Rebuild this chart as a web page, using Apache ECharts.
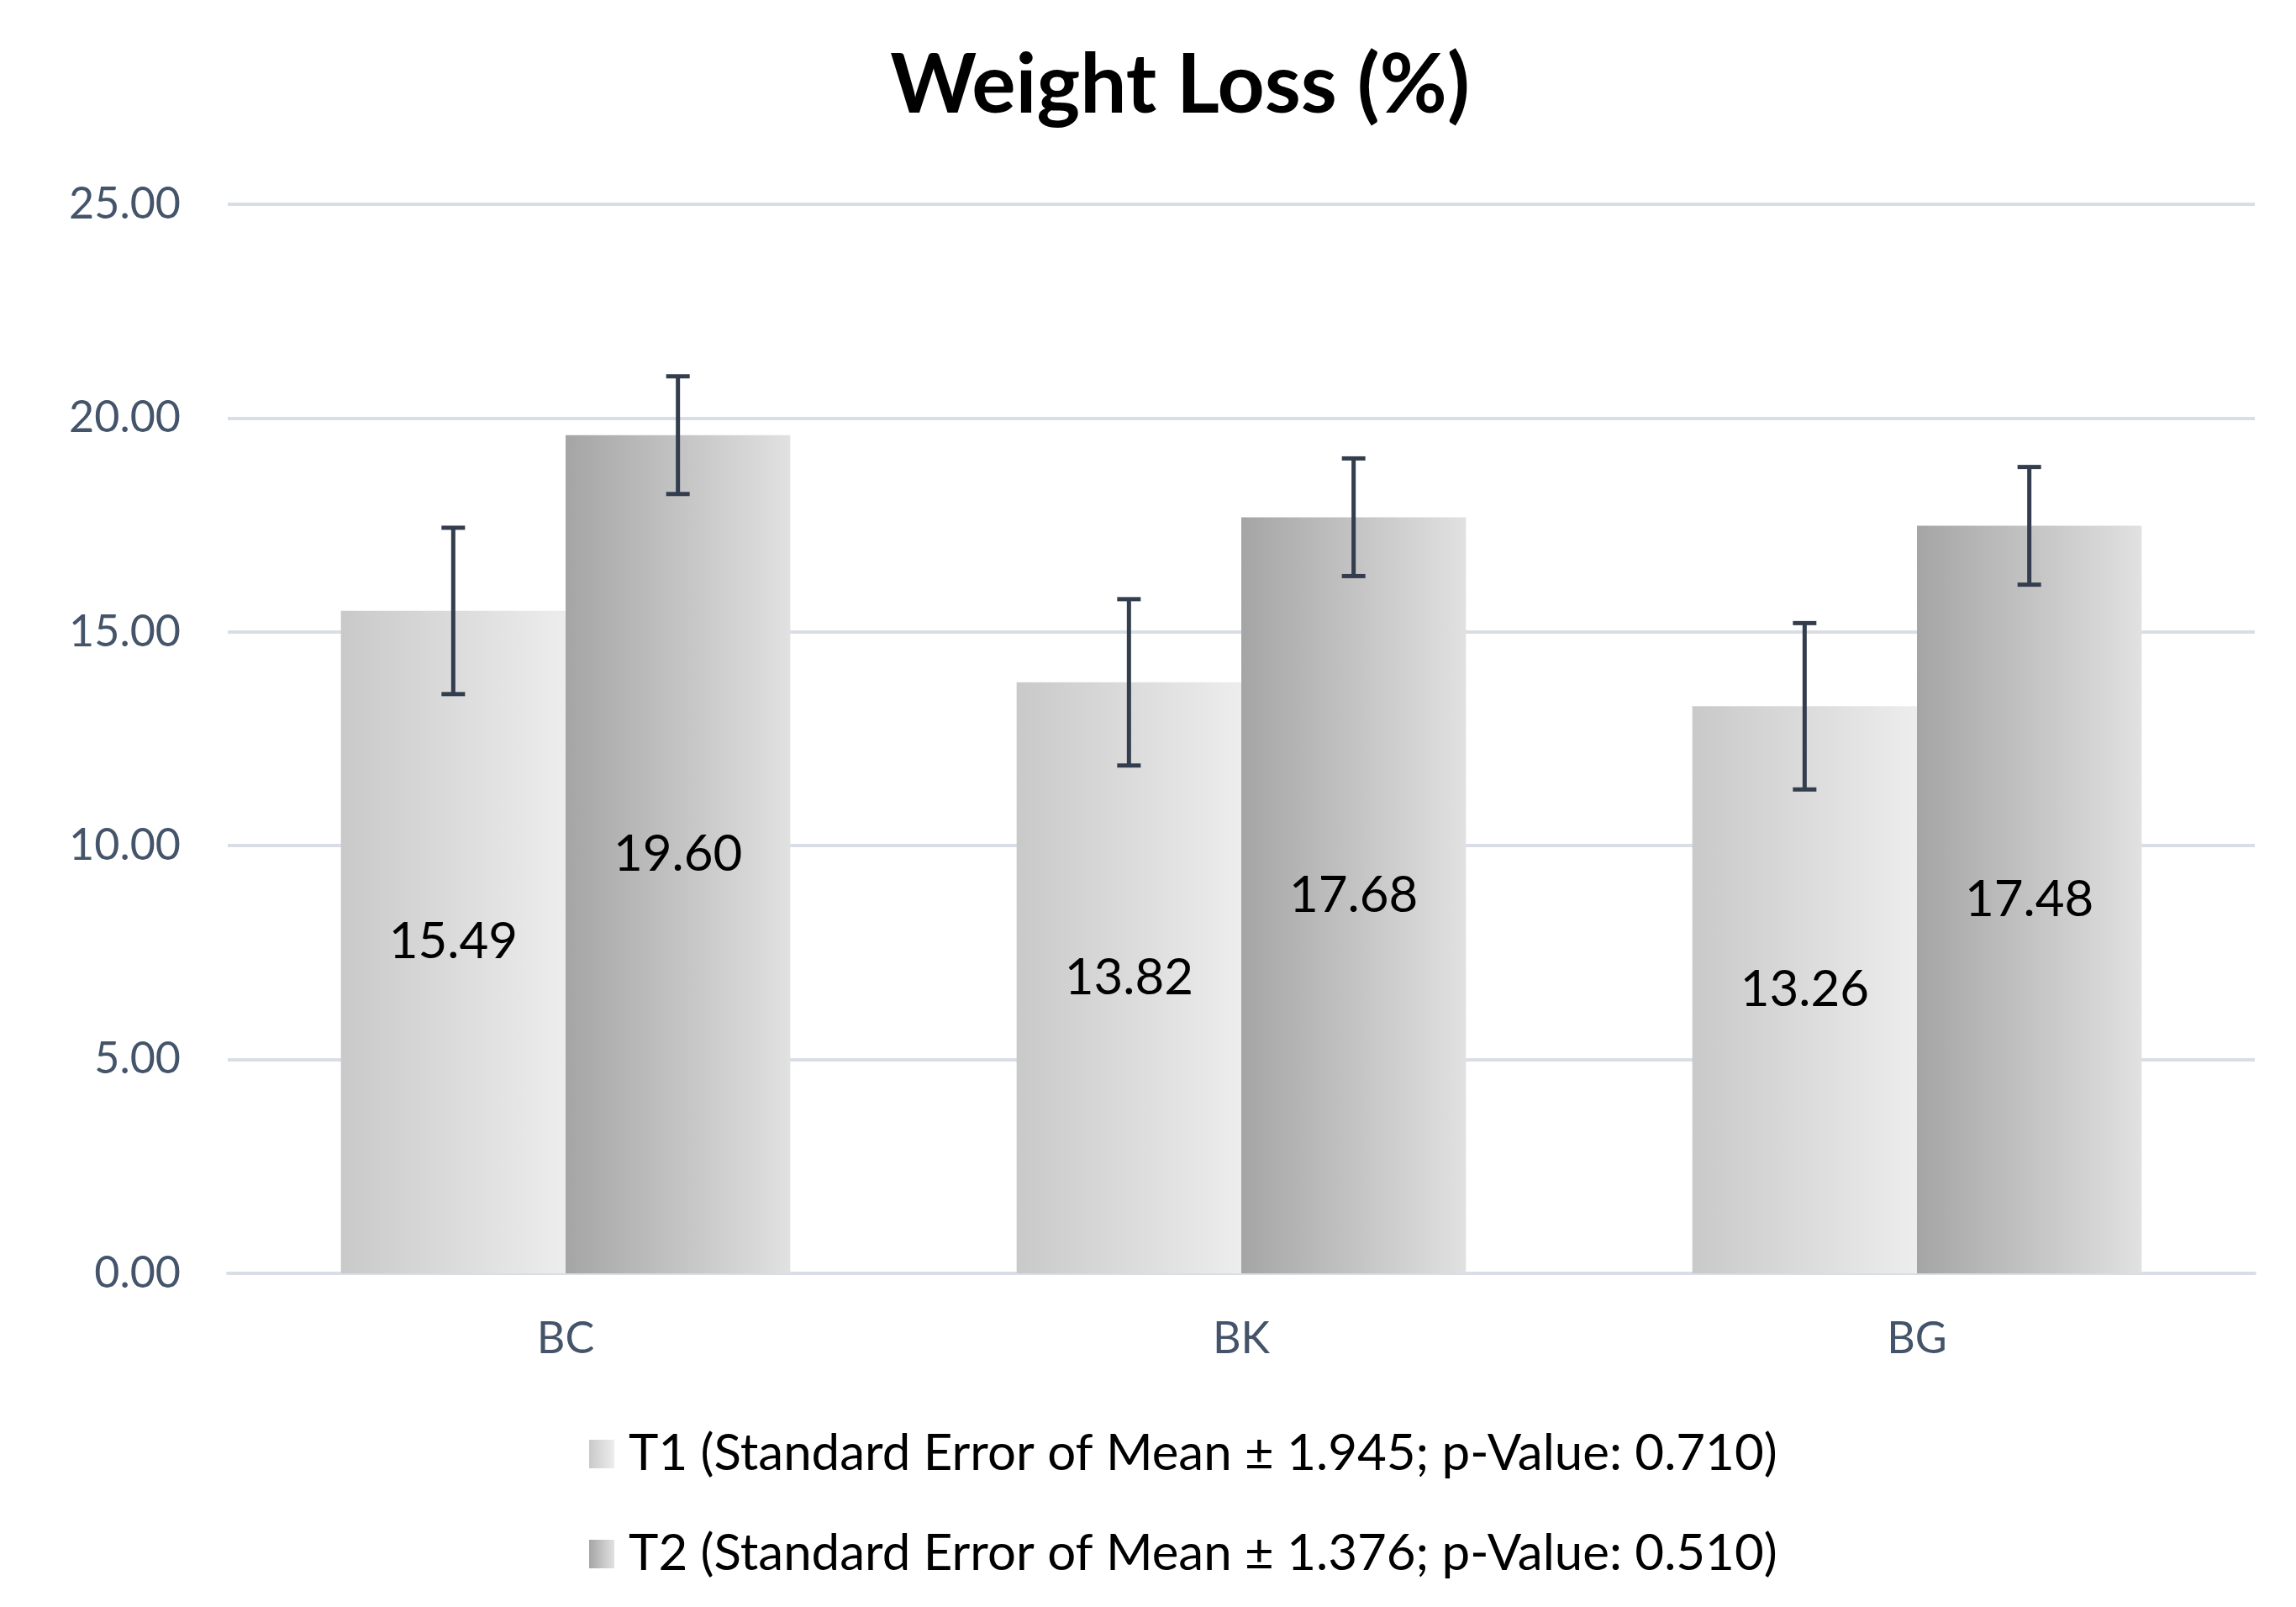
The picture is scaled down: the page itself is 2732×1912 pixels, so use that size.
<!DOCTYPE html>
<html>
<head>
<meta charset="utf-8">
<script src="https://cdn.jsdelivr.net/npm/echarts@6/dist/echarts.min.js"></script>
<style>
html,body{margin:0;padding:0;background:#fff;}
#c{width:2732px;height:1912px;}
</style>
</head>
<body>
<div id="c"></div>
<script>
const categories = ['BC', 'BK', 'BG'];
const t1Values = [15.49, 13.82, 13.26];
const t2Values = [19.60, 17.68, 17.48];
const t1Err = [1.945, 1.945, 1.945];
const t2Err = [1.376, 1.376, 1.376];
const seriesNames = [
  'T1 (Standard Error of Mean \u00B1 1.945; p-Value: 0.710)',
  'T2 (Standard Error of Mean \u00B1 1.376; p-Value: 0.510)'
];
const yTicks = { min: 0, max: 25, interval: 5 };

const FONT = 'Lato';
const AXIS_COLOR = '#44546A';
const GRID_COLOR = '#D9DEE6';
const ERR_COLOR = '#333D4E';
const CAT_GAP = 0.335;

const grad1 = new echarts.graphic.LinearGradient(0, 0, 1, 0, [
  { offset: 0, color: '#C9C9C9' },
  { offset: 1, color: '#EDEDED' }
]);
const grad2 = new echarts.graphic.LinearGradient(0, 0, 1, 0, [
  { offset: 0, color: '#A5A5A5' },
  { offset: 1, color: '#E1E1E1' }
]);

function errSeries(vals, errs, side) {
  return {
    type: 'custom',
    silent: true,
    z: 10,
    encode: { x: 0, y: 1 },
    data: vals.map((v, i) => [i, v, errs[i]]),
    renderItem: function (params, api) {
      const i = api.value(0), v = api.value(1), e = api.value(2);
      const band = api.size([1, 0])[0];
      const x = api.coord([i, v])[0] + side * band * (1 - CAT_GAP) / 4;
      const yT = api.coord([i, v + e])[1];
      const yB = api.coord([i, v - e])[1];
      const cap = 14;
      const st = { stroke: ERR_COLOR, lineWidth: 5 };
      return {
        type: 'group',
        children: [
          { type: 'line', shape: { x1: x, y1: yT, x2: x, y2: yB }, style: st },
          { type: 'line', shape: { x1: x - cap, y1: yT, x2: x + cap, y2: yT }, style: st },
          { type: 'line', shape: { x1: x - cap, y1: yB, x2: x + cap, y2: yB }, style: st }
        ]
      };
    }
  };
}

const chart = echarts.init(document.getElementById('c'));
chart.setOption({
  backgroundColor: '#ffffff',
  animation: false,
  title: {
    text: 'Weight Loss (%)',
    left: 1399,
    top: 48,
    textAlign: 'center',
    textStyle: { fontFamily: FONT, fontWeight: 'bold', fontSize: 98, color: '#000000' }
  },
  legend: {
    data: seriesNames,
    orient: 'vertical',
    left: 696,
    top: 1694,
    itemWidth: 30,
    itemHeight: 34,
    itemGap: 57,
    icon: 'rect',
    textStyle: { fontFamily: FONT, fontSize: 60, color: '#000000', lineHeight: 62, padding: [0, 0, 0, 12] }
  },
  grid: { left: 271, right: 49, top: 243, bottom: 397 },
  xAxis: {
    type: 'category',
    data: categories,
    axisLine: { show: true, lineStyle: { color: GRID_COLOR, width: 4 } },
    axisTick: { show: false },
    axisLabel: { fontFamily: FONT, fontSize: 52, color: AXIS_COLOR, margin: 52 }
  },
  yAxis: {
    type: 'value',
    min: yTicks.min,
    max: yTicks.max,
    interval: yTicks.interval,
    axisLine: { show: false },
    axisTick: { show: false },
    splitLine: { lineStyle: { color: GRID_COLOR, width: 4 } },
    axisLabel: {
      fontFamily: FONT, fontSize: 52, color: AXIS_COLOR, margin: 56,
      formatter: v => v.toFixed(2)
    }
  },
  series: [
    {
      name: seriesNames[0],
      type: 'bar',
      data: t1Values,
      barGap: '0%',
      barCategoryGap: (CAT_GAP * 100) + '%',
      itemStyle: { color: grad1 },
      label: {
        show: true, position: 'inside', color: '#000000',
        fontFamily: FONT, fontSize: 60,
        formatter: p => p.value.toFixed(2)
      }
    },
    {
      name: seriesNames[1],
      type: 'bar',
      data: t2Values,
      barGap: '0%',
      barCategoryGap: (CAT_GAP * 100) + '%',
      itemStyle: { color: grad2 },
      label: {
        show: true, position: 'inside', color: '#000000',
        fontFamily: FONT, fontSize: 60,
        formatter: p => p.value.toFixed(2)
      }
    },
    errSeries(t1Values, t1Err, -1),
    errSeries(t2Values, t2Err, 1)
  ]
});
</script>
</body>
</html>
